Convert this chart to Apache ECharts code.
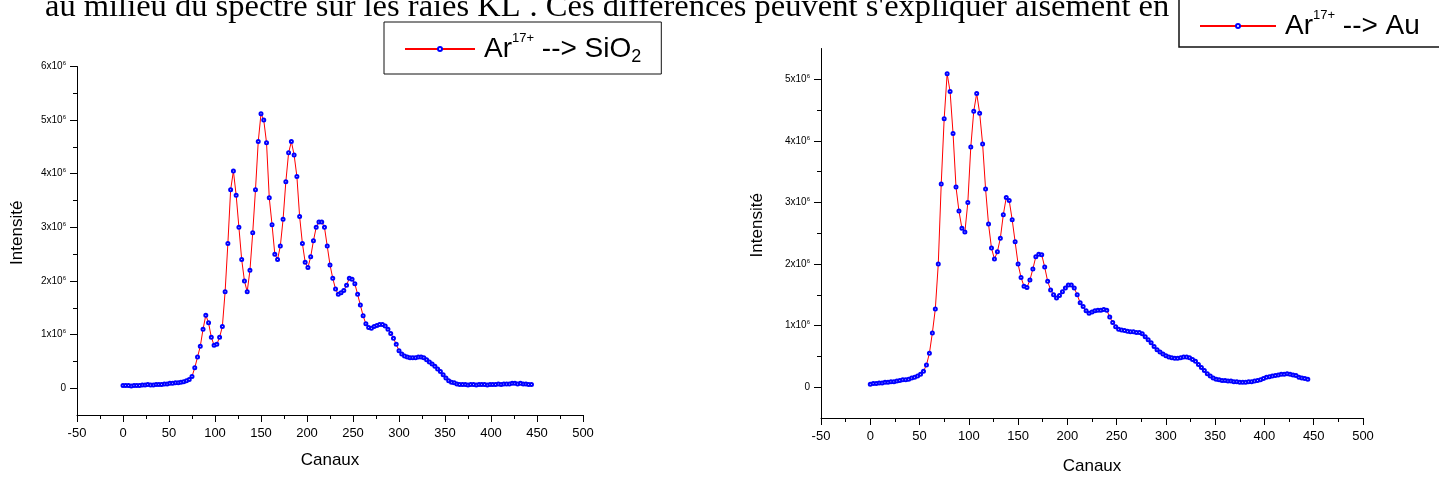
<!DOCTYPE html>
<html><head><meta charset="utf-8">
<script src="https://cdn.jsdelivr.net/npm/echarts@6/dist/echarts.min.js"></script>
<style>html,body{margin:0;padding:0;background:#fff}#c{width:1439px;height:480px}</style>
</head><body><div id="c"></div>
<script>
// channel numbers (x values shared by both spectra)
const channels = [0,3,6,9,12,15,18,21,24,27,30,33,36,39,42,45,48,51,54,57,60,63,66,69,72,75,78,81,84,87,90,93,96,99,102,105,108,111,114,117,120,123,126,129,132,135,138,141,144,147,150,153,156,159,162,165,168,171,174,177,180,183,186,189,192,195,198,201,204,207,210,213,216,219,222,225,228,231,234,237,240,243,246,249,252,255,258,261,264,267,270,273,276,279,282,285,288,291,294,297,300,303,306,309,312,315,318,321,324,327,330,333,336,339,342,345,348,351,354,357,360,363,366,369,372,375,378,381,384,387,390,393,396,399,402,405,408,411,414,417,420,423,426,429,432,435,438,441,444];
// intensity in units of 10^6
const sio2 = [0.05,0.05,0.05,0.04,0.05,0.05,0.05,0.06,0.06,0.07,
0.06,0.06,0.07,0.07,0.07,0.08,0.08,0.09,0.09,0.10,
0.10,0.11,0.12,0.14,0.16,0.22,0.38,0.58,0.78,1.10,
1.36,1.22,0.95,0.80,0.82,0.95,1.15,1.80,2.70,3.70,
4.05,3.60,3.00,2.40,2.00,1.80,2.20,2.90,3.70,4.60,
5.12,5.00,4.58,3.55,3.05,2.50,2.40,2.65,3.15,3.85,
4.39,4.60,4.35,3.95,3.20,2.70,2.35,2.25,2.45,2.75,
3.00,3.10,3.10,3.00,2.65,2.30,2.05,1.85,1.75,1.78,
1.82,1.92,2.05,2.03,1.95,1.75,1.55,1.35,1.20,1.13,
1.12,1.15,1.17,1.19,1.19,1.16,1.10,1.02,0.93,0.82,
0.70,0.64,0.60,0.58,0.57,0.57,0.57,0.58,0.58,0.57,
0.53,0.49,0.45,0.41,0.36,0.31,0.25,0.19,0.14,0.11,
0.10,0.08,0.07,0.07,0.07,0.06,0.07,0.07,0.06,0.07,
0.07,0.07,0.06,0.07,0.07,0.07,0.08,0.07,0.08,0.08,
0.08,0.09,0.09,0.08,0.09,0.08,0.08,0.07,0.07];
const au = [0.05,0.06,0.06,0.07,0.07,0.08,0.08,0.09,0.09,0.10,
0.11,0.12,0.12,0.13,0.15,0.16,0.18,0.21,0.26,0.36,
0.55,0.88,1.27,2.00,3.30,4.36,5.09,4.80,4.12,3.25,
2.86,2.58,2.52,3.00,3.90,4.48,4.77,4.45,3.95,3.22,
2.65,2.26,2.08,2.20,2.42,2.80,3.08,3.03,2.72,2.36,
2.00,1.78,1.64,1.62,1.74,1.92,2.12,2.16,2.15,1.95,
1.72,1.58,1.50,1.45,1.49,1.55,1.61,1.66,1.66,1.61,
1.50,1.37,1.31,1.24,1.20,1.22,1.24,1.25,1.25,1.26,
1.25,1.14,1.05,0.98,0.94,0.93,0.92,0.91,0.90,0.90,
0.89,0.89,0.87,0.82,0.77,0.72,0.66,0.61,0.57,0.54,
0.51,0.49,0.48,0.47,0.47,0.48,0.49,0.49,0.48,0.45,
0.42,0.37,0.32,0.27,0.22,0.18,0.15,0.13,0.12,0.11,
0.11,0.10,0.10,0.09,0.09,0.08,0.08,0.08,0.09,0.09,
0.10,0.11,0.12,0.14,0.16,0.17,0.18,0.19,0.20,0.21,
0.21,0.22,0.21,0.20,0.19,0.16,0.15,0.14,0.13];
const seriesNames = ['Ar17+ --> SiO2', 'Ar17+ --> Au'];
const yMajorLeft = [0,1,2,3,4,5,6];
const yMinorLeft = [0.5,1.5,2.5,3.5,4.5,5.5];
const yMajorRight = [0,1,2,3,4,5];
const yMinorRight = [0.5,1.5,2.5,3.5,4.5];
const xAxisTitle = 'Canaux';
const yAxisTitle = 'Intensité';
const headerText = "au milieu du spectre sur les raies KL{s|1}. Ces différences peuvent s'expliquer aisément en";

const SANS = 'Liberation Sans, Arial, sans-serif';
const pairs = (xs, ys) => xs.map((x, i) => [x, ys[i]]);

function xAxisCfg(gi, gap) {
  return {
    type: 'value', gridIndex: gi, min: -50, max: 500, interval: 50,
    axisLine: { show: true, onZero: false, lineStyle: { color: '#000', width: 1 } },
    axisTick: { show: true, length: 7, lineStyle: { color: '#000' } },
    minorTick: { show: true, splitNumber: 2, length: 4, lineStyle: { color: '#000' } },
    splitLine: { show: false }, minorSplitLine: { show: false },
    axisLabel: { color: '#000', fontSize: 13, fontFamily: SANS, margin: 12 },
    name: xAxisTitle, nameLocation: 'middle', nameGap: gap,
    nameTextStyle: { color: '#000', fontSize: 17, fontFamily: SANS }
  };
}
const yLabelRich = {
  b: { fontSize: 10, fontFamily: SANS, color: '#000', lineHeight: 12 },
  s: { fontSize: 6, fontFamily: SANS, color: '#000', verticalAlign: 'top', lineHeight: 6 }
};
function yMajorCfg(gi, max, majors, gap) {
  return {
    type: 'value', gridIndex: gi, min: -0.5, max: max, interval: 0.5, position: 'left',
    axisLine: { show: true, onZero: false, lineStyle: { color: '#000', width: 1 } },
    axisTick: { show: true, length: 7, customValues: majors, lineStyle: { color: '#000' } },
    splitLine: { show: false },
    axisLabel: {
      customValues: majors, margin: 11, color: '#000', fontSize: 10, fontFamily: SANS,
      formatter: v => v === 0 ? '0' : '{b|' + v + 'x10}{s|6}', rich: yLabelRich
    },
    name: yAxisTitle, nameLocation: 'middle', nameGap: gap,
    nameTextStyle: { color: '#000', fontSize: 17, fontFamily: SANS, padding: [0, 0, 0, 16] }
  };
}
function yMinorCfg(gi, max, minors) {
  return {
    type: 'value', gridIndex: gi, min: -0.5, max: max, interval: 0.5, position: 'left',
    axisLine: { show: false, onZero: false }, splitLine: { show: false },
    axisTick: { show: true, length: 4, customValues: minors, lineStyle: { color: '#000' } },
    axisLabel: { show: false }
  };
}
const legendRich = {
  a: { fontSize: 28, lineHeight: 34, fontFamily: SANS, color: '#000' },
  sup: { fontSize: 13, lineHeight: 13, verticalAlign: 'top', fontFamily: SANS, color: '#000' },
  sub: { fontSize: 18, lineHeight: 12, verticalAlign: 'bottom', fontFamily: SANS, color: '#000' }
};
function legendFmt(name) {
  if (/SiO2$/.test(name)) return '{a|Ar}{sup|17+}{a| --> SiO}{sub|2}';
  return '{a|Ar}{sup|17+}{a| --> Au}';
}
function seriesCfg(name, idx, data) {
  return {
    name: name, type: 'line', xAxisIndex: idx, yAxisIndex: idx * 2, data: data,
    symbol: 'emptyCircle', symbolSize: 3, showAllSymbol: true,
    lineStyle: { color: '#ff0000', width: 1 },
    itemStyle: { color: '#0000ff', borderColor: '#0000ff', borderWidth: 1 },
    emphasis: { disabled: true }, animation: false
  };
}

const chart = echarts.init(document.getElementById('c'), null, { renderer: 'canvas' });
chart.setOption({
  backgroundColor: '#ffffff',
  animation: false,
  grid: [
    { left: 77, right: 856, top: 66.5, bottom: 65 },
    { left: 821, right: 76, top: 48.5, bottom: 56 }
  ],
  xAxis: [xAxisCfg(0, 37), xAxisCfg(1, 40)],
  yAxis: [
    yMajorCfg(0, 6, yMajorLeft, 51), yMinorCfg(0, 6, yMinorLeft),
    yMajorCfg(1, 5.5, yMajorRight, 55), yMinorCfg(1, 5.5, yMinorRight)
  ],
  legend: [
    {
      data: [seriesNames[0]], left: 384, top: 22, orient: 'horizontal',
      padding: [10, 20, 8, 20], itemWidth: 70, itemHeight: 5,
      borderColor: '#111', borderWidth: 1, backgroundColor: '#fff',
      formatter: legendFmt, selectedMode: false,
      textStyle: { rich: legendRich, padding: [0, 0, 0, 4] }
    },
    {
      data: [seriesNames[1]], left: 1179, top: -20, orient: 'horizontal',
      padding: [29, 100, 7, 20], itemWidth: 76, itemHeight: 5,
      borderColor: '#111', borderWidth: 1.5, backgroundColor: '#fff',
      formatter: legendFmt, selectedMode: false,
      textStyle: { rich: legendRich, padding: [0, 0, 0, 4] }
    }
  ],
  graphic: [{
    type: 'text', x: 45, y: 7, silent: true,
    style: {
      text: headerText, fontSize: 32.5, lineHeight: 70, fontFamily: 'Liberation Serif, Times New Roman, serif',
      fill: '#000', verticalAlign: 'middle',
      rich: { s: { fontSize: 18, fontFamily: 'Liberation Serif, serif', verticalAlign: 'top', lineHeight: 4 } }
    }
  }],
  series: [
    seriesCfg(seriesNames[0], 0, pairs(channels, sio2)),
    seriesCfg(seriesNames[1], 1, pairs(channels, au))
  ]
});
</script></body></html>
